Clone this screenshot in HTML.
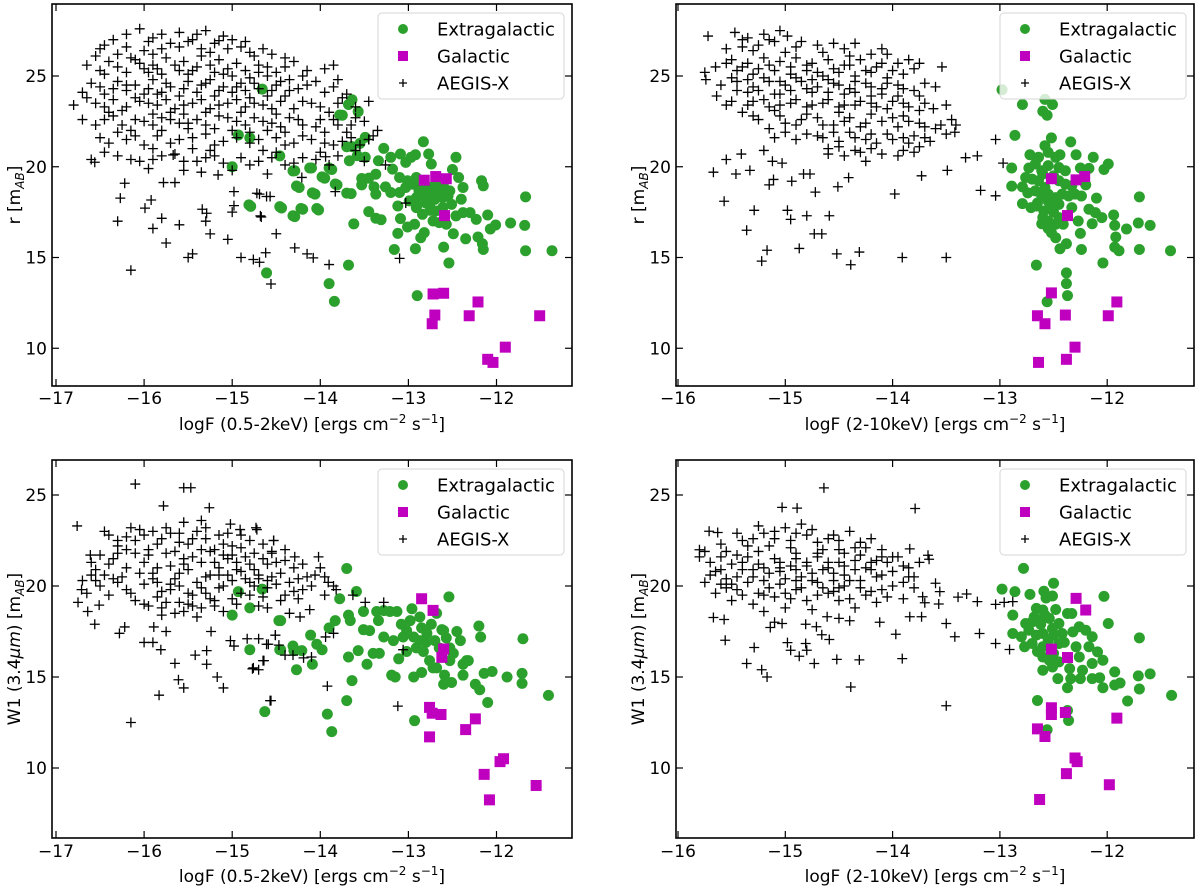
<!DOCTYPE html>
<html>
<head>
<meta charset="utf-8">
<style>
  html,body{margin:0;padding:0;background:#fff;}
  svg{display:block;font-family:"DejaVu Sans","Liberation Sans",sans-serif;}
</style>
</head>
<body>
<svg id="fig" width="1200" height="889" viewBox="0 0 1200 889" xmlns="http://www.w3.org/2000/svg"></svg>
<script>
// ---------- DATA (logF, magnitude) ----------
const softTicks = [-17, -16, -15, -14, -13, -12];
const hardTicks = [-16, -15, -14, -13, -12];
const magTicksTop = [25, 20, 15, 10];
const magTicksBottom = [25, 20, 15, 10];
const legendLabels = ["Extragalactic", "Galactic", "AEGIS-X"];

// Panel 1: r vs logF(0.5-2keV)
const p1Green = [[-13.64,23.69],[-13.68,23.43],[-13.57,23.04],[-13.75,22.84],[-13.49,21.62],[-13.55,21.29],[-13.64,21.11],[-13.28,21.01],[-12.83,21.38],[-13.09,20.7],[-12.92,20.66],[-12.77,20.7],[-12.46,20.52],[-13.67,20.33],[-13.58,20.61],[-13.49,20.52],[-13.34,20.33],[-13.2,20.52],[-13.03,20.24],[-12.97,20.52],[-12.74,20.15],[-14.29,19.78],[-14.1,19.93],[-13.87,19.85],[-13.95,19.37],[-13.53,19.35],[-13.45,19.37],[-13.37,19.59],[-13.18,19.87],[-13.1,19.41],[-12.5,19.85],[-12.43,19.41],[-12.17,19.23],[-12.15,18.95],[-14.24,18.86],[-14.06,18.49],[-13.81,19.0],[-13.65,18.52],[-13.53,19.0],[-13.39,18.89],[-13.37,18.49],[-13.26,18.89],[-13.2,18.58],[-13.1,18.58],[-13.03,18.86],[-12.95,19.04],[-12.88,18.67],[-12.76,18.49],[-12.65,18.67],[-12.53,18.67],[-12.38,18.86],[-14.79,17.82],[-14.44,17.73],[-14.2,17.66],[-14.02,17.62],[-14.29,17.25],[-13.45,17.53],[-13.37,17.16],[-13.31,17.08],[-13.62,16.85],[-13.12,17.84],[-13.09,17.14],[-13.01,16.68],[-12.91,17.75],[-12.84,17.38],[-12.76,17.93],[-12.69,17.56],[-12.61,17.75],[-12.51,17.93],[-12.4,18.21],[-12.38,17.47],[-12.3,17.47],[-12.23,17.1],[-12.1,17.34],[-11.67,18.34],[-11.84,16.9],[-11.68,16.77],[-12.01,16.79],[-12.07,16.57],[-13.12,16.33],[-12.86,16.09],[-12.82,16.37],[-12.49,16.31],[-12.35,16.03],[-12.21,16.13],[-12.16,15.76],[-12.15,15.44],[-13.16,15.44],[-12.92,15.48],[-12.6,15.57],[-12.54,14.7],[-11.67,15.37],[-11.37,15.37],[-14.61,14.15],[-13.68,14.58],[-13.9,13.56],[-13.84,12.58],[-12.9,12.9],[-12.93,16.83],[-12.65,16.92],[-12.57,16.83],[-12.46,17.29],[-12.72,17.01],[-12.99,18.12],[-12.91,18.3],[-12.82,18.39],[-12.76,18.86],[-12.69,19.04],[-13.01,19.23],[-12.91,19.41],[-12.84,18.95],[-12.61,18.3],[-12.55,18.39],[-14.66,24.28],[-14.93,21.75],[-14.8,21.6],[-15.0,20.0],[-14.46,20.6],[-14.31,19.77],[-14.12,19.93],[-13.98,19.44],[-13.9,19.93],[-13.83,19.05],[-14.27,18.94],[-14.09,18.56],[-13.7,18.55],[-14.81,17.9],[-14.46,17.8],[-14.31,17.3],[-14.22,17.7],[-14.04,17.7],[-13.7,21.1],[-13.78,22.85],[-12.8,18.0],[-12.7,18.2],[-12.9,17.9],[-12.75,17.6],[-12.85,18.6],[-12.6,18.9]];
const p1Mag = [[-12.82,19.26],[-12.69,19.46],[-12.57,19.34],[-12.59,17.31],[-12.72,12.99],[-12.6,13.03],[-12.21,12.55],[-12.7,11.83],[-12.73,11.35],[-12.31,11.79],[-11.51,11.79],[-11.9,10.06],[-12.1,9.39],[-12.04,9.22]];
const p1Cross = [[-16.05,27.6],[-16.2,27.3],[-15.8,27.3],[-15.6,27.4],[-15.4,27.3],[-15.3,27.5],[-15.1,27.2],[-15.0,27.0],[-16.45,26.7],[-15.95,26.9],[-15.7,26.8],[-15.5,26.9],[-15.2,26.8],[-14.9,26.6],[-14.8,26.3],[-16.3,26.2],[-16.55,26.1],
[-16.4,25.8],[-16.1,25.9],[-15.9,25.6],[-15.75,26.0],[-15.55,25.8],[-15.35,26.1],[-15.15,25.9],[-14.95,25.7],[-14.7,25.6],[-14.5,25.2],[-14.3,25.8],[-16.5,25.3],[-16.2,25.2],[-16.0,25.4],[-15.8,25.1],[-15.6,25.3],[-15.4,25.5],[-15.2,25.2],[-15.0,25.0],[-14.8,24.9],[-14.6,25.0],[-14.15,25.3],[-13.95,25.4],[-14.05,24.7],
[-16.6,24.6],[-16.3,24.7],[-16.1,24.5],[-15.9,24.8],[-15.7,24.4],[-15.5,24.7],[-15.3,24.6],[-15.1,24.4],[-14.9,24.6],[-14.7,24.3],[-14.5,24.5],[-14.35,24.2],[-16.7,24.1],[-16.45,24.0],[-16.2,24.2],[-16.0,24.0],[-15.8,24.1],[-15.6,23.9],[-15.4,24.1],[-15.2,23.9],[-15.0,24.1],[-14.8,23.8],[-14.6,23.9],[-14.25,24.3],[-13.95,24.1],
[-16.8,23.4],[-16.55,23.5],[-16.35,23.7],[-16.2,23.3],[-16.05,23.6],[-15.85,23.4],[-15.65,23.2],[-15.45,23.5],[-15.25,23.2],[-15.05,23.5],[-14.85,23.3],[-14.65,23.4],[-14.45,23.6],[-14.3,23.2],[-14.1,23.5],[-13.9,23.0],[-13.75,23.8],[-16.4,23.0],[-15.9,22.9],[-15.55,22.9],
[-16.7,22.6],[-16.45,22.6],[-16.25,22.3],[-16.0,22.5],[-15.8,22.7],[-15.6,22.4],[-15.4,22.6],[-15.15,22.8],[-14.95,22.5],[-14.75,22.7],[-14.55,22.4],[-14.35,22.7],[-14.2,22.3],[-14.0,22.6],[-13.8,22.3],[-13.6,22.7],[-16.15,22.0],[-15.5,22.1],[-15.0,22.0],[-14.6,22.0],[-13.95,21.9],
[-16.5,21.6],[-16.2,21.5],[-15.85,21.7],[-15.6,21.5],[-15.3,21.8],[-15.1,21.4],[-14.8,21.3],[-14.5,21.6],[-14.3,21.3],[-14.1,21.5],[-13.85,21.2],[-13.65,21.6],[-13.45,21.5],[-16.0,21.2],[-15.45,21.0],[-14.65,20.9],[-14.0,20.8],
[-16.6,20.4],[-16.3,20.6],[-16.05,20.3],[-15.8,20.6],[-15.55,20.3],[-15.3,20.5],[-15.1,20.2],[-14.9,20.5],[-14.7,20.3],[-14.4,20.1],[-14.2,20.5],[-13.9,20.1],[-13.26,20.1],[-15.95,19.9],[-15.35,19.7],
[-16.56,20.25],[-16.27,18.27],[-16.22,19.09],[-15.99,17.72],[-15.92,18.17],[-15.8,17.16],[-15.78,19.13],[-15.65,19.13],[-15.34,17.66],[-15.29,17.44],[-14.98,18.63],[-14.98,17.86],[-14.72,18.54],[-14.68,17.29],[-14.61,18.36],[-15.16,19.55],[-15.67,20.65],
[-14.76,14.89],[-14.69,14.74],[-14.62,15.26],[-14.56,13.54],[-14.5,16.31],[-14.29,15.53],[-14.15,15.2],[-14.08,14.98],[-13.9,14.61],[-14.67,17.23],[-14.69,18.49],[-14.57,18.36],[-13.83,18.63],[-14.21,19.41],[-13.94,20.55],[-13.45,21.5],[-13.03,18.0],[-13.1,14.95],
[-16.15,14.3],[-15.75,15.8],[-15.5,15.0],[-15.45,15.2],[-15.25,16.3],[-15.05,16.0],[-15.6,16.8],[-15.9,16.6],[-16.3,17.0],[-15.3,17.0],[-15.0,17.5],[-14.9,15.0]];
const p1CrossExtra = [[-16.35,27.0],[-15.9,27.1],[-15.45,27.0],[-15.15,26.95],[-14.85,26.9],[-14.65,26.5],[-14.55,26.2],
[-16.5,26.5],[-16.2,26.6],[-16.0,26.4],[-15.8,26.5],[-15.6,26.6],[-15.35,26.5],[-15.05,26.5],[-14.75,26.1],[-15.25,26.3],[-15.9,26.2],[-16.15,26.0],[-14.4,26.0],
[-16.65,25.6],[-16.3,25.5],[-16.05,25.7],[-15.85,25.4],[-15.65,25.6],[-15.45,25.3],[-15.25,25.6],[-15.05,25.4],[-14.85,25.3],[-14.6,25.5],[-14.4,25.5],[-14.2,25.0],[-13.85,25.6],[-13.8,24.8],[-16.45,25.1],[-15.95,25.2],[-15.5,25.1],[-15.1,25.1],[-14.7,25.2],[-14.35,24.8],
[-16.5,24.4],[-16.2,24.5],[-15.95,24.3],[-15.75,24.6],[-15.55,24.3],[-15.35,24.5],[-15.15,24.2],[-14.95,24.4],[-14.75,24.6],[-14.55,24.2],[-14.15,24.5],[-13.85,24.4],[-13.7,24.0],[-16.35,24.3],[-15.85,24.0],[-15.25,24.8],[-14.85,24.2],[-14.45,24.7],
[-16.65,23.8],[-16.45,23.3],[-16.1,23.8],[-15.95,23.5],[-15.75,23.7],[-15.55,23.4],[-15.35,23.7],[-15.15,23.4],[-14.95,23.7],[-14.75,23.5],[-14.55,23.2],[-14.4,23.9],[-14.2,23.6],[-14.0,23.3],[-13.8,23.5],[-13.6,23.3],[-13.45,23.6],[-16.25,23.1],[-15.7,23.0],[-15.3,23.0],[-14.9,23.0],[-14.5,22.9],
[-16.55,22.3],[-16.35,22.8],[-16.1,22.6],[-15.9,22.3],[-15.7,22.6],[-15.5,22.4],[-15.3,22.3],[-15.05,22.7],[-14.85,22.3],[-14.65,22.5],[-14.45,22.2],[-14.25,22.6],[-14.05,22.2],[-13.85,22.6],[-13.65,22.3],[-13.5,22.5],[-13.35,22.0],[-16.3,21.9],[-15.8,22.0],[-15.2,22.1],[-14.8,21.9],[-14.4,21.9],[-13.7,21.9],
[-16.4,21.3],[-16.1,21.7],[-15.7,21.3],[-15.45,21.6],[-15.2,21.2],[-14.95,21.6],[-14.7,21.5],[-14.4,21.2],[-14.2,21.7],[-13.95,21.3],[-13.75,21.4],[-13.55,21.2],[-13.4,21.7],[-15.9,21.0],[-15.25,20.9],[-14.5,20.8],[-13.6,20.9],
[-16.45,20.8],[-16.15,20.4],[-15.9,20.4],[-15.65,20.7],[-15.4,20.3],[-15.2,20.6],[-14.8,20.1],[-14.55,20.5],[-14.3,20.2],[-14.05,20.4],[-13.8,20.6],[-13.5,20.3],[-15.55,19.8],[-15.0,19.8],[-14.6,19.6]];

// Panel 2: r vs logF(2-10keV)
const p2Green = [[-12.79,23.43],[-12.51,23.43],[-12.6,23.06],[-12.56,22.84],[-12.86,21.73],[-12.52,21.59],[-12.34,21.37],[-12.58,21.16],[-12.72,20.66],[-12.64,20.52],[-12.55,20.79],[-12.48,20.52],[-12.44,20.66],[-12.29,20.66],[-12.13,20.52],[-11.99,20.15],[-12.03,19.85],[-12.89,19.93],[-12.73,19.93],[-12.67,20.15],[-12.61,19.78],[-12.55,20.06],[-12.45,19.96],[-12.39,19.78],[-12.25,19.93],[-12.17,19.91],[-12.76,19.41],[-12.7,19.32],[-12.64,19.23],[-12.58,18.86],[-12.45,19.23],[-12.39,19.04],[-12.33,18.95],[-12.2,19.0],[-12.89,18.93],[-12.79,18.89],[-12.74,18.56],[-12.67,18.67],[-12.61,18.39],[-12.55,18.49],[-12.48,18.3],[-12.42,18.49],[-12.36,18.39],[-12.3,18.49],[-12.24,18.39],[-12.1,18.27],[-11.7,18.34],[-12.79,17.97],[-12.71,17.75],[-12.66,17.84],[-12.59,17.56],[-12.53,17.75],[-12.45,17.93],[-12.33,17.75],[-12.17,17.66],[-12.11,17.47],[-12.05,17.2],[-12.61,16.86],[-12.55,17.01],[-12.48,16.83],[-12.41,16.83],[-12.27,17.01],[-12.14,16.86],[-11.94,17.34],[-11.93,16.77],[-11.82,16.57],[-11.71,16.9],[-11.6,16.77],[-12.52,16.37],[-12.48,16.09],[-12.25,16.33],[-11.92,16.13],[-12.38,15.76],[-12.44,15.48],[-12.24,15.44],[-11.93,15.57],[-11.89,15.37],[-11.7,15.44],[-11.41,15.37],[-12.66,14.58],[-12.04,14.7],[-12.38,14.15],[-12.38,13.56],[-12.37,12.9],[-12.56,12.56],[-12.55,18.1],[-12.5,17.5],[-12.6,17.2],[-12.45,17.2],[-12.65,18.0],[-12.5,19.5],[-12.6,19.6],[-12.55,16.6]];
const p2GreenFaded = [[-12.98,24.24],[-12.58,23.71]];
const p2Mag = [[-12.52,19.34],[-12.29,19.28],[-12.21,19.46],[-12.37,17.31],[-12.52,13.05],[-11.91,12.55],[-12.65,11.79],[-12.58,11.35],[-12.39,11.83],[-11.99,11.79],[-12.3,10.06],[-12.38,9.39],[-12.64,9.22]];
const p2Cross = [[-13.54,25.5],[-13.04,21.5],[-12.97,20.2],[-13.32,20.5],[-13.21,20.6],[-13.18,18.7],[-13.04,18.4],[-13.41,22.3],[-13.42,21.9],[-13.49,19.8],[-13.73,19.5],[-13.98,18.5],[-13.91,15.0],[-13.5,15.0],
[-15.72,27.2],[-15.75,25.2],[-15.74,24.8],[-15.64,23.9],[-15.67,19.7],[-15.57,18.1],[-15.55,20.4],[-15.46,19.6],[-15.33,19.8],[-15.41,20.7],[-15.2,20.9],[-15.29,17.6],[-15.36,16.5],[-15.17,15.4],[-15.22,14.8],[-15.15,19.0],[-15.11,19.3],[-14.98,17.6],[-14.95,17.1],[-14.8,17.3],[-14.72,18.6],[-14.87,15.5],[-14.73,16.3],[-14.66,16.3],[-14.59,17.3],[-14.51,18.9],[-14.52,15.2],[-14.39,14.6],[-14.31,15.3],[-14.41,19.4],[-14.83,19.6],[-14.77,19.6],[-14.94,19.2],[-15.12,20.3],[-15.03,20.2],
[-15.47,27.4],[-15.35,27.1],[-15.2,27.3],[-15.05,27.5],[-14.98,27.2],[-15.1,26.9],[-15.4,26.6],[-15.25,26.7],[-14.9,26.6],[-14.55,26.8],[-14.35,26.8],[-14.1,26.5],[-14.2,26.2],[-15.55,26.5],[-15.65,25.5],
[-15.5,25.9],[-15.35,25.7],[-15.2,26.0],[-15.05,25.8],[-14.9,26.0],[-14.75,25.7],[-14.6,25.9],[-14.45,25.6],[-14.3,25.9],[-14.15,25.5],[-13.95,25.7],[-13.8,25.4],[-15.45,25.3],[-15.3,25.1],[-15.1,25.3],[-14.95,25.1],[-14.8,25.3],[-14.65,25.0],[-14.5,25.2],[-14.35,25.0],[-14.2,25.2],[-14.05,24.9],[-13.9,25.1],
[-15.6,24.5],[-15.45,24.7],[-15.3,24.4],[-15.15,24.7],[-15.0,24.5],[-14.85,24.7],[-14.7,24.4],[-14.55,24.6],[-14.4,24.3],[-14.25,24.6],[-14.1,24.3],[-13.95,24.5],[-13.8,24.2],[-13.7,24.6],[-15.35,24.1],[-15.05,24.0],[-14.75,24.1],[-14.45,24.0],[-14.2,23.9],
[-15.5,23.6],[-15.35,23.4],[-15.2,23.7],[-15.05,23.4],[-14.9,23.7],[-14.75,23.4],[-14.6,23.7],[-14.45,23.4],[-14.3,23.6],[-14.15,23.3],[-14.0,23.6],[-13.85,23.3],[-13.7,23.5],[-13.62,23.2],[-15.4,23.0],[-15.1,23.1],[-14.8,22.9],[-14.5,23.0],[-14.2,22.9],[-13.9,22.8],
[-15.25,22.6],[-15.0,22.4],[-14.85,22.6],[-14.65,22.3],[-14.45,22.5],[-14.3,22.2],[-14.1,22.5],[-13.95,22.2],[-13.75,22.4],[-13.6,22.1],[-13.55,22.3],[-15.15,22.1],[-14.55,21.9],[-14.2,21.8],[-13.8,21.7],
[-15.1,21.6],[-14.9,21.5],[-14.7,21.7],[-14.5,21.4],[-14.35,21.6],[-14.15,21.3],[-14.0,21.5],[-13.85,21.3],[-13.7,21.6],[-14.6,21.0],[-14.3,20.8],[-14.1,20.7],[-13.9,20.9],[-13.75,21.1],[-14.45,20.6],[-14.25,20.3]];
const p2CrossExtra = [[-15.4,27.0],[-15.15,27.0],[-14.85,26.9],[-14.7,26.7],[-14.45,26.5],[-15.3,26.4],[-15.0,26.3],[-14.65,26.3],[-14.4,26.1],[-14.05,26.2],[-13.85,25.9],
[-15.55,25.7],[-15.4,25.5],[-15.25,25.4],[-15.15,25.6],[-14.95,25.5],[-14.8,25.6],[-14.7,25.2],[-14.55,25.4],[-14.4,25.6],[-14.25,25.3],[-14.1,25.7],[-14.0,25.3],[-13.75,25.7],
[-15.5,24.9],[-15.35,24.8],[-15.2,24.9],[-15.05,24.7],[-14.9,24.9],[-14.75,24.8],[-14.6,24.8],[-14.5,24.5],[-14.35,24.7],[-14.2,24.4],[-14.05,24.6],[-13.9,24.3],[-13.6,24.4],
[-15.45,24.2],[-15.25,24.2],[-15.1,24.0],[-14.95,24.2],[-14.8,24.3],[-14.6,24.1],[-14.35,24.1],[-14.1,24.0],[-13.95,23.9],[-13.75,23.9],
[-15.55,23.4],[-15.3,23.6],[-15.15,23.3],[-14.95,23.5],[-14.8,23.3],[-14.65,23.5],[-14.5,23.3],[-14.35,23.4],[-14.2,23.5],[-14.05,23.2],[-13.9,23.5],[-13.75,23.1],[-13.5,23.4],
[-15.3,22.8],[-15.05,22.8],[-14.9,22.3],[-14.7,22.7],[-14.55,22.3],[-14.4,22.7],[-14.25,22.4],[-14.0,22.7],[-13.85,22.5],[-13.7,22.2],[-13.45,22.6],
[-15.0,21.9],[-14.8,21.8],[-14.65,21.6],[-14.4,21.9],[-14.25,21.5],[-14.05,21.8],[-13.9,21.6],[-13.65,21.4],[-13.5,21.8],[-14.5,21.1],[-14.2,21.0],[-13.95,20.6],[-13.8,20.8],[-14.35,20.9],[-14.6,20.7]];

// Panel 3: W1 vs logF(0.5-2keV)
const p3Green = [[-14.93,19.69],[-15.0,18.4],[-14.8,18.8],[-14.66,19.83],[-14.8,16.5],[-14.45,18.1],[-14.45,16.5],[-14.31,16.7],[-14.27,15.4],[-14.63,13.1],[-14.3,16.45],[-13.7,20.96],[-14.47,18.1],[-14.46,16.5],[-14.21,16.45],[-14.11,17.3],[-14.04,16.8],[-13.98,16.5],[-14.09,15.7],[-13.9,17.7],[-13.83,18.1],[-13.78,19.3],[-13.68,18.4],[-13.59,19.7],[-13.66,18.1],[-13.57,16.45],[-13.68,16.1],[-13.64,14.8],[-13.7,13.7],[-13.47,15.7],[-13.4,16.3],[-13.33,16.3],[-13.92,12.96],[-13.87,12.0],[-13.51,18.6],[-13.51,17.6],[-13.44,17.55],[-13.36,18.6],[-13.28,18.65],[-13.21,18.6],[-13.13,18.6],[-13.34,18.1],[-13.28,17.2],[-13.17,17.0],[-13.11,16.0],[-13.15,15.0],[-13.19,15.1],[-13.08,17.9],[-13.02,17.55],[-12.98,18.1],[-12.91,16.6],[-12.94,17.2],[-12.87,17.0],[-12.96,18.75],[-12.87,18.3],[-12.83,16.4],[-12.79,17.4],[-12.74,17.9],[-12.68,18.5],[-12.6,17.55],[-12.62,17.6],[-12.57,17.15],[-12.54,19.4],[-12.53,15.9],[-12.45,17.5],[-12.41,17.0],[-12.38,15.7],[-12.34,15.9],[-12.51,14.7],[-12.6,14.6],[-12.59,15.1],[-12.72,15.5],[-12.85,15.25],[-12.94,15.0],[-12.93,12.6],[-12.38,15.1],[-12.24,14.6],[-12.19,14.3],[-12.1,13.6],[-12.2,17.8],[-12.18,17.2],[-12.32,15.9],[-12.14,15.2],[-12.05,15.3],[-11.88,15.0],[-11.71,15.2],[-11.71,14.65],[-11.7,17.1],[-11.41,13.99],[-12.68,15.5],[-12.76,15.9],[-13.02,16.4],[-13.06,17.2],[-12.53,16.6],[-12.49,16.3],[-12.85,17.7],[-12.7,17.0],[-12.8,16.9],[-12.65,16.6]];
const p3Mag = [[-12.85,19.3],[-12.72,18.66],[-12.6,16.54],[-12.62,16.08],[-12.76,13.33],[-12.73,13.01],[-12.63,12.94],[-12.24,12.7],[-12.35,12.11],[-12.76,11.71],[-11.92,10.51],[-11.96,10.35],[-12.14,9.65],[-11.55,9.04],[-12.08,8.25]];
const p3Cross = [[-16.76,23.3],[-16.1,25.6],[-15.55,25.4],[-15.47,25.4],[-15.78,24.4],[-15.26,24.3],[-16.61,21.7],[-16.75,19.1],[-16.71,19.8],[-16.64,18.6],[-16.56,17.9],[-16.51,18.95],[-16.28,17.4],[-16.22,17.75],[-16.15,12.5],[-16.0,16.9],[-15.9,16.9],[-15.81,16.5],[-15.89,17.75],[-15.75,17.5],[-15.65,15.75],[-15.83,14.0],[-15.61,14.85],[-15.55,14.4],[-15.42,16.2],[-15.29,16.45],[-15.29,15.7],[-15.24,17.5],[-15.17,15.0],[-15.1,14.4],[-15.02,17.0],[-14.98,16.7],[-14.83,17.1],[-14.77,15.45],[-14.7,15.4],[-14.64,15.9],[-14.56,13.7],[-14.59,16.8],[-14.51,17.3],[-14.47,16.75],[-14.4,16.2],[-15.02,23.4],[-14.91,23.1],[-14.73,23.2],[-14.53,22.5],
[-14.72,23.1],[-14.53,22.5],[-14.29,21.6],[-14.02,21.6],[-14.06,20.6],[-13.91,20.2],[-13.82,19.8],[-13.63,19.5],[-13.49,19.1],[-13.28,19.1],[-14.12,18.7],[-14.23,18.3],[-13.94,17.2],[-13.85,17.4],[-14.51,17.3],[-14.7,17.1],[-14.61,16.8],[-14.65,15.9],[-14.76,15.5],[-14.31,16.2],[-14.19,16.05],[-14.1,16.1],[-13.92,14.5],[-14.57,13.7],[-13.12,13.4],[-13.06,16.5],
[-16.4,22.8],[-16.3,22.2],[-16.35,21.5],[-16.2,21.0],[-16.45,20.6],[-16.3,20.2],[-16.15,19.6],[-16.5,20.0],[-16.05,23.1],[-16.1,22.5],[-15.95,22.0],[-16.0,21.3],[-15.9,20.7],[-16.0,20.1],[-15.85,19.4],[-15.95,18.9],[-15.8,18.4],[-15.8,22.6],[-15.75,21.8],[-15.7,21.1],[-15.65,20.4],[-15.7,19.8],[-15.6,19.1],[-15.65,18.5],[-15.6,22.9],[-15.55,23.5],[-15.5,22.3],[-15.45,21.6],[-15.5,20.9],[-15.4,20.2],[-15.45,19.5],[-15.35,18.8],[-15.3,23.2],[-15.3,22.6],[-15.25,21.9],[-15.2,21.3],[-15.25,20.6],[-15.15,19.9],[-15.2,19.2],[-15.1,18.6],[-15.05,22.9],[-15.0,22.2],[-15.05,21.5],[-14.95,20.9],[-15.0,20.3],[-14.9,19.6],[-14.95,19.0],[-14.8,22.5],[-14.75,21.8],[-14.8,21.2],[-14.7,20.6],[-14.75,20.0],[-14.65,19.4],[-14.55,21.9],[-14.5,21.3],[-14.45,20.7],[-14.5,20.1],[-14.4,19.5],[-14.3,21.0],[-14.25,20.4],[-14.2,19.8],[-16.6,21.3],[-16.55,20.9],[-16.7,20.3],[-16.0,19.0],[-15.4,18.3],[-14.6,18.8],[-14.35,18.5],[-15.75,23.2],[-15.35,23.6],[-15.9,23.0],[-15.55,21.2],[-15.1,21.7],[-14.85,20.4],[-16.2,22.7],[-16.25,20.5],[-15.6,20.0],[-15.3,19.6],[-14.65,21.5],[-16.1,21.8],[-15.85,20.2],[-15.15,20.6],[-14.6,20.3],[-16.4,19.5],[-15.5,19.0]];
const p3CrossExtra = [[-16.45,23.0],[-16.3,22.5],[-16.2,22.0],[-16.4,21.2],[-16.35,20.4],[-16.2,19.8],[-16.1,19.2],[-16.15,23.2],[-16.0,22.8],[-15.95,21.7],[-15.85,21.0],[-15.9,20.4],[-15.8,19.7],[-15.75,19.1],[-15.85,22.3],[-15.7,22.9],[-15.6,22.4],[-15.55,21.5],[-15.6,20.7],[-15.5,19.6],[-15.45,18.9],[-15.55,18.6],[-15.4,23.0],[-15.35,22.0],[-15.35,21.3],[-15.3,20.5],[-15.25,19.3],[-15.2,18.9],[-15.15,22.8],[-15.1,22.3],[-15.15,21.0],[-15.05,20.6],[-15.1,20.0],[-15.0,19.3],[-14.9,22.8],[-14.9,22.1],[-14.85,21.6],[-14.9,20.8],[-14.8,20.2],[-14.8,19.5],[-14.7,18.9],[-14.65,22.3],[-14.6,21.2],[-14.55,20.5],[-14.6,19.9],[-14.45,19.2],[-14.4,22.0],[-14.4,21.4],[-14.35,20.2],[-14.3,19.7],[-14.2,21.2],[-14.15,20.5],[-14.1,20.0],[-14.25,19.3],[-13.95,20.5],[-13.85,20.0],[-13.95,19.5],[-14.0,21.0],[-16.55,20.3],[-16.65,19.6],[-16.6,20.6],[-16.5,21.7],[-16.3,21.8],[-15.7,20.1],[-15.65,21.9],[-15.2,22.0],[-14.95,21.3],[-14.7,20.4],[-15.35,19.9],[-15.8,18.8],[-14.55,21.8],[-16.05,20.7],[-15.45,22.6],[-15.0,21.7],[-14.75,20.9]];

// Panel 4: W1 vs logF(2-10keV)
const p4Green = [[-12.78,20.97],[-12.98,19.83],[-12.86,19.69],[-12.72,19.54],[-12.59,19.71],[-12.5,20.15],[-12.57,19.34],[-12.51,19.45],[-12.03,19.43],[-12.88,18.4],[-12.66,18.77],[-12.6,18.68],[-12.48,18.71],[-12.37,18.49],[-12.33,18.49],[-12.76,17.94],[-12.7,18.03],[-12.63,18.13],[-12.54,18.22],[-12.45,17.94],[-11.99,17.94],[-12.88,17.39],[-12.8,17.21],[-12.73,17.57],[-12.66,17.3],[-12.6,17.39],[-12.51,17.67],[-12.42,17.39],[-12.32,17.48],[-12.26,17.76],[-12.2,17.57],[-12.14,17.21],[-11.7,17.15],[-12.77,16.66],[-12.7,16.84],[-12.6,16.66],[-12.45,16.84],[-12.29,16.66],[-12.17,16.66],[-12.09,16.38],[-12.6,16.1],[-12.54,15.92],[-12.45,15.83],[-12.26,16.1],[-12.14,15.74],[-12.04,15.92],[-12.6,15.37],[-12.51,15.55],[-12.35,15.46],[-12.23,15.37],[-12.46,14.91],[-12.34,14.91],[-12.25,14.91],[-12.14,14.91],[-12.07,14.96],[-12.37,14.41],[-12.04,14.41],[-11.93,15.28],[-11.93,14.56],[-11.88,14.67],[-11.71,15.06],[-11.6,15.17],[-11.7,14.34],[-11.4,13.99],[-11.81,13.68],[-12.65,13.71],[-12.37,13.16],[-12.36,12.61],[-12.56,12.1],[-12.62,17.9],[-12.55,17.0],[-12.5,16.3],[-12.65,16.4],[-12.4,16.9],[-12.58,18.4],[-12.68,18.3],[-12.5,17.3]];
const p4Mag = [[-12.29,19.32],[-12.2,18.68],[-12.52,16.53],[-12.37,16.07],[-12.52,13.31],[-12.52,12.94],[-12.39,13.05],[-11.91,12.74],[-12.65,12.15],[-12.58,11.73],[-12.3,10.55],[-12.28,10.35],[-12.38,9.69],[-11.98,9.08],[-12.63,8.27]];
const p4Cross = [[-14.64,25.39],[-15.03,24.32],[-14.89,24.28],[-13.79,24.26],[-15.71,23.01],[-15.63,22.94],[-15.8,21.99],[-15.75,20.2],[-15.67,18.27],[-15.57,18.16],[-15.56,17.02],[-15.29,16.62],[-15.36,15.74],[-15.22,15.4],[-15.17,15.0],[-14.98,16.89],[-14.95,16.47],[-14.87,16.14],[-14.8,16.47],[-14.73,15.74],[-14.52,15.97],[-14.31,15.94],[-13.91,16.01],[-14.39,14.45],[-13.5,13.42],[-13.97,17.35],[-13.42,17.21],[-13.19,17.39],[-13.04,16.84],[-12.91,16.51],[-13.5,17.94],[-13.39,19.39],[-13.31,19.56],[-13.21,19.14],[-13.04,18.99],[-12.96,19.1],[-12.88,19.14],[-13.57,19.01],[-13.84,18.31],[-13.73,18.31],[-14.12,18.01],[-15.14,17.72],[-15.1,18.01],[-15.03,17.94],[-14.81,17.9],[-14.71,17.76],[-14.66,17.32],[-14.59,17.06],[-14.81,16.84],[-14.61,18.31],[-14.5,18.22],[-14.4,18.09],[-13.67,21.69],[-13.84,22.04],[-13.66,21.47],[-13.6,20.15],[-13.56,19.69],[-13.7,19.08],[-13.72,19.41],
[-15.8,21.6],[-15.7,21.3],[-15.65,20.8],[-15.55,21.9],[-15.5,21.2],[-15.55,20.4],[-15.45,19.8],[-15.5,19.2],[-15.4,22.5],[-15.35,21.6],[-15.3,20.9],[-15.35,20.2],[-15.25,19.6],[-15.3,19.0],[-15.2,22.9],[-15.15,22.2],[-15.1,21.5],[-15.15,20.7],[-15.05,20.1],[-15.1,19.4],[-15.0,23.2],[-14.95,22.5],[-14.9,21.8],[-14.95,21.1],[-14.85,20.5],[-14.9,19.8],[-14.8,19.2],[-14.75,23.1],[-14.7,22.4],[-14.7,21.6],[-14.65,20.9],[-14.7,20.2],[-14.6,19.6],[-14.55,22.8],[-14.5,22.0],[-14.5,21.3],[-14.45,20.6],[-14.5,19.9],[-14.4,19.3],[-14.3,22.4],[-14.3,21.7],[-14.25,21.0],[-14.3,20.3],[-14.2,19.7],[-14.1,22.0],[-14.05,21.3],[-14.1,20.6],[-14.0,20.0],[-14.05,19.4],[-13.9,21.1],[-13.85,20.5],[-13.8,19.9],[-13.95,21.6],[-15.6,22.3],[-15.45,22.9],[-15.25,23.3],[-14.85,23.4],[-14.4,23.0],[-14.2,22.6],[-15.0,18.8],[-14.75,18.7],[-14.35,18.8],[-15.65,19.6],[-15.2,18.6],[-14.15,19.1],[-13.9,19.3],[-15.4,20.9],[-14.8,21.3],[-14.35,20.9],[-14.6,21.0],[-15.05,21.0],[-14.55,20.3],[-15.2,20.3],[-14.9,20.3],[-14.2,20.9],[-15.45,20.5],[-14.65,19.9],[-14.9,21.5],[-14.45,21.8],[-15.25,21.2],[-14.75,20.7],[-15.6,20.1],[-14.15,21.4]];
const p4CrossExtra = [[-15.75,21.9],[-15.6,21.6],[-15.6,20.9],[-15.5,20.1],[-15.4,21.3],[-15.35,22.2],[-15.3,20.5],[-15.25,21.9],[-15.2,21.0],[-15.15,19.9],[-15.1,22.6],[-15.05,21.3],[-15.0,20.4],[-15.0,19.6],[-14.95,22.1],[-14.9,20.9],[-14.85,19.9],[-14.8,22.8],[-14.8,21.1],[-14.75,20.3],[-14.7,19.5],[-14.65,22.0],[-14.6,21.3],[-14.55,20.7],[-14.55,19.7],[-14.5,22.5],[-14.45,21.1],[-14.4,20.3],[-14.35,21.4],[-14.3,19.9],[-14.25,22.1],[-14.2,21.3],[-14.15,20.5],[-14.1,19.8],[-14.0,21.6],[-14.0,20.8],[-13.9,20.2],[-13.85,21.0],[-13.8,20.5],[-13.75,21.3],[-15.45,21.7],[-15.55,19.9],[-15.7,20.6],[-15.3,22.6],[-15.1,23.0],[-14.9,22.9],[-14.6,22.6],[-14.35,22.1],[-14.1,21.6],[-15.2,19.5],[-14.95,19.3],[-14.5,19.2],[-14.25,19.5],[-15.4,19.5],[-14.7,21.8],[-15.05,20.8],[-14.45,20.0]];

// ---------- RENDER ----------
const NS = "http://www.w3.org/2000/svg";
const svg = document.getElementById("fig");
function mk(tag, attrs, parent) {
  const e = document.createElementNS(NS, tag);
  for (const k in attrs) e.setAttribute(k, attrs[k]);
  (parent || svg).appendChild(e);
  return e;
}

const panels = [
  {key:"soft-r", L:52, R:572, T:4, B:386, x0:-17, xp0:56, xs:88.1, y0:25, yp0:76, ys:18.15,
   xt:softTicks, yt:magTicksTop, green:p1Green, faded:[], mag:p1Mag, cross:p1Cross.concat(p1CrossExtra),
   band:"0.5-2keV", ylab:"r", tickY:404, xlabY:430, ylabX:20, legT:13},
  {key:"hard-r", L:676, R:1194, T:4, B:386, x0:-16, xp0:678, xs:107.3, y0:25, yp0:76, ys:18.15,
   xt:hardTicks, yt:magTicksTop, green:p2Green, faded:p2GreenFaded, mag:p2Mag, cross:p2Cross.concat(p2CrossExtra),
   band:"2-10keV", ylab:"r", tickY:404, xlabY:430, ylabX:644, legT:13},
  {key:"soft-w1", L:52, R:572, T:460, B:838, x0:-17, xp0:56, xs:88.1, y0:25, yp0:495, ys:18.2,
   xt:softTicks, yt:magTicksBottom, green:p3Green, faded:[], mag:p3Mag, cross:p3Cross.concat(p3CrossExtra),
   band:"0.5-2keV", ylab:"W1", tickY:857, xlabY:882, ylabX:20, legT:469},
  {key:"hard-w1", L:676, R:1194, T:460, B:838, x0:-16, xp0:678, xs:107.3, y0:25, yp0:495, ys:18.2,
   xt:hardTicks, yt:magTicksBottom, green:p4Green, faded:[], mag:p4Mag, cross:p4Cross.concat(p4CrossExtra),
   band:"2-10keV", ylab:"W1", tickY:857, xlabY:882, ylabX:644, legT:469}
];

const GREEN = "#2ca02c", MAG = "#bf00bf";

function crossMark(g, cx, cy, s) {
  return mk("path", {d:`M${cx-s},${cy}H${cx+s}M${cx},${cy-s}V${cy+s}`, stroke:"#000", "stroke-width":1.3, fill:"none"}, g);
}

panels.forEach(p => {
  const sx = v => p.xp0 + (v - p.x0) * p.xs;
  const sy = v => p.yp0 + (p.y0 - v) * p.ys;
  const g = mk("g", {});
  
  

  const clipId = "clip-" + p.key;
  const cp = mk("clipPath", {id: clipId}, g);
  mk("rect", {x:p.L, y:p.T, width:p.R-p.L, height:p.B-p.T}, cp);
  const plot = mk("g", {"clip-path":`url(#${clipId})`}, g);
  
  

  const gg = mk("g", {fill:GREEN}, plot);
  
  
  p.faded.concat(p.green).forEach(d => {
    const c = mk("circle", {cx:sx(d[0]), cy:sy(d[1]), r:5.5}, gg);
    
    
  });
  const mg = mk("g", {fill:MAG}, plot);
  
  
  p.mag.forEach(d => {
    const r = mk("rect", {x:sx(d[0])-5.5, y:sy(d[1])-5.5, width:11, height:11}, mg);
    
    
  });
  const cg = mk("g", {}, plot);
  
  
  p.cross.forEach(d => {
    const c = crossMark(cg, sx(d[0]), sy(d[1]), 5);
    
    
  });

  const fr = mk("rect", {x:p.L, y:p.T, width:p.R-p.L, height:p.B-p.T, fill:"none", stroke:"#000", "stroke-width":1.6}, g);
  
  

  const xa = mk("g", {}, g);
  
  
  p.xt.forEach(t => {
    const x = sx(t);
    mk("line", {x1:x, x2:x, y1:p.B, y2:p.B-7, stroke:"#000", "stroke-width":1.2}, xa);
    mk("line", {x1:x, x2:x, y1:p.T, y2:p.T+7, stroke:"#000", "stroke-width":1.2}, xa);
    const tx = mk("text", {x:x, y:p.tickY, "font-size":17, "text-anchor":"middle", fill:"#000"}, xa);
    tx.textContent = "\u2212" + Math.abs(t);
    
    
  });
  const xl = mk("text", {x:(p.L+p.R)/2, y:p.xlabY, "font-size":17, "text-anchor":"middle", fill:"#000"}, xa);
  
  
  xl.appendChild(document.createTextNode("logF (" + p.band + ") [ergs cm"));
  let s1 = mk("tspan", {"font-size":12, dy:-7}, xl); s1.textContent = "\u22122";
  let s2 = mk("tspan", {dy:7}, xl); s2.textContent = " s";
  let s3 = mk("tspan", {"font-size":12, dy:-7}, xl); s3.textContent = "\u22121";
  let s4 = mk("tspan", {dy:7}, xl); s4.textContent = "]";

  const ya = mk("g", {}, g);
  
  
  p.yt.forEach(t => {
    const y = sy(t);
    mk("line", {x1:p.L, x2:p.L+7, y1:y, y2:y, stroke:"#000", "stroke-width":1.2}, ya);
    mk("line", {x1:p.R, x2:p.R-7, y1:y, y2:y, stroke:"#000", "stroke-width":1.2}, ya);
    const ty = mk("text", {x:p.L-5, y:y+6, "font-size":17, "text-anchor":"end", fill:"#000"}, ya);
    ty.textContent = String(t);
    
    
  });
  const cy = (p.T + p.B) / 2;
  const yl = mk("text", {x:0, y:0, "font-size":17, "text-anchor":"middle", fill:"#000",
     transform:`translate(${p.ylabX},${cy}) rotate(-90)`}, ya);
  
  
  if (p.ylab === "r") {
    yl.appendChild(document.createTextNode("r [m"));
  } else {
    yl.appendChild(document.createTextNode("W1 (3.4"));
    const mu = mk("tspan", {"font-style":"italic"}, yl); mu.textContent = "\u03bcm";
    const rest = mk("tspan", {}, yl); rest.textContent = ") [m";
  }
  const sub = mk("tspan", {"font-size":12, "font-style":"italic", dy:4}, yl); sub.textContent = "AB";
  const cl = mk("tspan", {dy:-4}, yl); cl.textContent = "]";

  const lx = p.R - 194, ly = p.legT;
  const lg = mk("g", {}, g);
  
  
  mk("rect", {x:lx, y:ly, width:186, height:86, rx:4, fill:"rgba(255,255,255,0.8)", stroke:"#d6d6d6", "stroke-width":1}, lg);
  legendLabels.forEach((lab, i) => {
    const yy = ly + 16 + i * 27;
    const e = mk("g", {}, lg);
    
    
    if (i === 0) mk("circle", {cx:lx+25, cy:yy, r:5, fill:GREEN}, e);
    else if (i === 1) mk("rect", {x:lx+20, y:yy-5, width:10, height:10, fill:MAG}, e);
    else crossMark(e, lx+25, yy, 4);
    const t = mk("text", {x:lx+59, y:yy+6.5, "font-size":18, fill:"#000"}, e);
    t.textContent = lab;
  });
});
</script>
</body>
</html>
